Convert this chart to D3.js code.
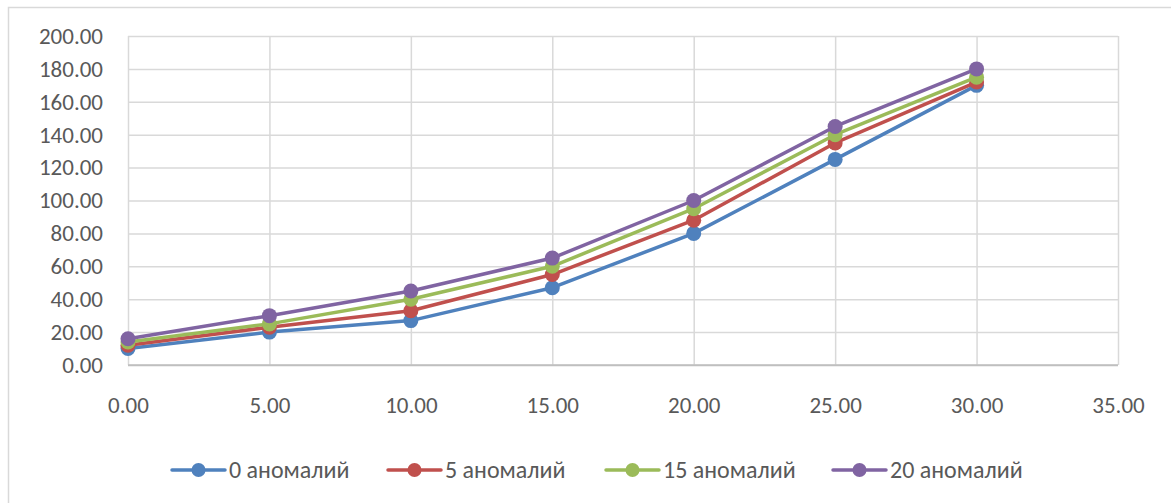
<!DOCTYPE html>
<html>
<head>
<meta charset="utf-8">
<script src="https://cdn.jsdelivr.net/npm/d3@7/dist/d3.min.js"></script>
<style>
  html, body { margin: 0; padding: 0; background: #ffffff; }
  svg { display: block; }
  text { font-family: Carlito, Lato, "Open Sans", sans-serif; fill: #595959; }
</style>
</head>
<body>
<svg id="chart" width="1171" height="503"></svg>
<script>
// Series data: x positions and y values per series
const xValues = [0, 5, 10, 15, 20, 25, 30];
const series0 = [10, 20, 27, 47, 80, 125, 170];
const series5 = [12, 23, 33, 55, 88, 135, 172];
const series15 = [14, 25, 40, 60, 95, 140, 175];
const series20 = [16, 30, 45, 65, 100, 145, 180];
const seriesNames = ["0 аномалий", "5 аномалий", "15 аномалий", "20 аномалий"];
const seriesColors = ["#4F81BD", "#C0504D", "#9BBB59", "#8064A2"];
const xTicks = [0, 5, 10, 15, 20, 25, 30, 35];
const yTicks = [0, 20, 40, 60, 80, 100, 120, 140, 160, 180, 200];

const allSeries = [series0, series5, series15, series20].map((vals, i) => ({
  name: seriesNames[i],
  color: seriesColors[i],
  points: xValues.map((x, j) => ({ x, y: vals[j] }))
}));

const svg = d3.select("#chart");

// Chart area frame
svg.append("rect")
  .attr("x", 8.5).attr("y", 7.5)
  .attr("width", 1180).attr("height", 520)
  .attr("fill", "#ffffff")
  .attr("stroke", "#d9d9d9")
  .attr("stroke-width", 1.5);

const plot = { left: 128, right: 1118, top: 36, bottom: 365 };

const x = d3.scaleLinear().domain([0, 35]).range([plot.left, plot.right]);
const y = d3.scaleLinear().domain([0, 200]).range([plot.bottom, plot.top]);

const fmt = d3.format(".2f");
const tickFont = 23;
const legendFont = 24;

// Horizontal gridlines with y tick labels
const yAxis = svg.append("g")
  .attr("transform", `translate(${plot.left},0)`)
  .call(d3.axisLeft(y).tickValues(yTicks).tickFormat(fmt)
    .tickSize(-(plot.right - plot.left)).tickPadding(25));
yAxis.select(".domain").remove();
yAxis.selectAll(".tick line")
  .attr("stroke", d => d === 0 ? "#bfbfbf" : "#d9d9d9")
  .attr("stroke-width", 1.5);
yAxis.selectAll(".tick text")
  .attr("font-size", tickFont)
  .attr("fill", "#595959");

// Vertical gridlines with x tick labels
const xAxis = svg.append("g")
  .attr("transform", `translate(0,${plot.bottom})`)
  .call(d3.axisBottom(x).tickValues(xTicks).tickFormat(fmt)
    .tickSize(-(plot.bottom - plot.top)));
xAxis.select(".domain").remove();
xAxis.selectAll(".tick line")
  .attr("stroke", "#d9d9d9")
  .attr("stroke-width", 1.5);
xAxis.selectAll(".tick text")
  .attr("font-size", tickFont)
  .attr("fill", "#595959")
  .attr("y", 40)
  .attr("dy", "0.35em");

// Baseline drawn over vertical gridlines
svg.append("line")
  .attr("x1", plot.left).attr("x2", plot.right)
  .attr("y1", y(0)).attr("y2", y(0))
  .attr("stroke", "#bfbfbf").attr("stroke-width", 1.5);

const line = d3.line().x(d => x(d.x)).y(d => y(d.y));

// Series lines and markers
allSeries.forEach(s => {
  const g = svg.append("g");
  g.append("path")
    .datum(s.points)
    .attr("d", line)
    .attr("fill", "none")
    .attr("stroke", s.color)
    .attr("stroke-width", 3.5)
    .attr("stroke-linejoin", "round")
    .attr("stroke-linecap", "round");
  g.selectAll("circle")
    .data(s.points)
    .join("circle")
    .attr("cx", d => x(d.x))
    .attr("cy", d => y(d.y))
    .attr("r", 7.5)
    .attr("fill", s.color);
});

// Legend
const legendX = [172, 388, 606, 833];
const legendY = 470;
const legend = svg.append("g");
allSeries.forEach((s, i) => {
  const g = legend.append("g").attr("transform", `translate(${legendX[i]},${legendY})`);
  g.append("line")
    .attr("x1", 0).attr("x2", 53)
    .attr("y1", 0).attr("y2", 0)
    .attr("stroke", s.color).attr("stroke-width", 3.5)
    .attr("stroke-linecap", "round");
  g.append("circle").attr("cx", 26.5).attr("cy", 0).attr("r", 7).attr("fill", s.color);
  g.append("text")
    .attr("x", 57).attr("y", 0).attr("dy", "0.35em")
    .attr("font-size", legendFont)
    .text(s.name);
});
</script>
</body>
</html>
